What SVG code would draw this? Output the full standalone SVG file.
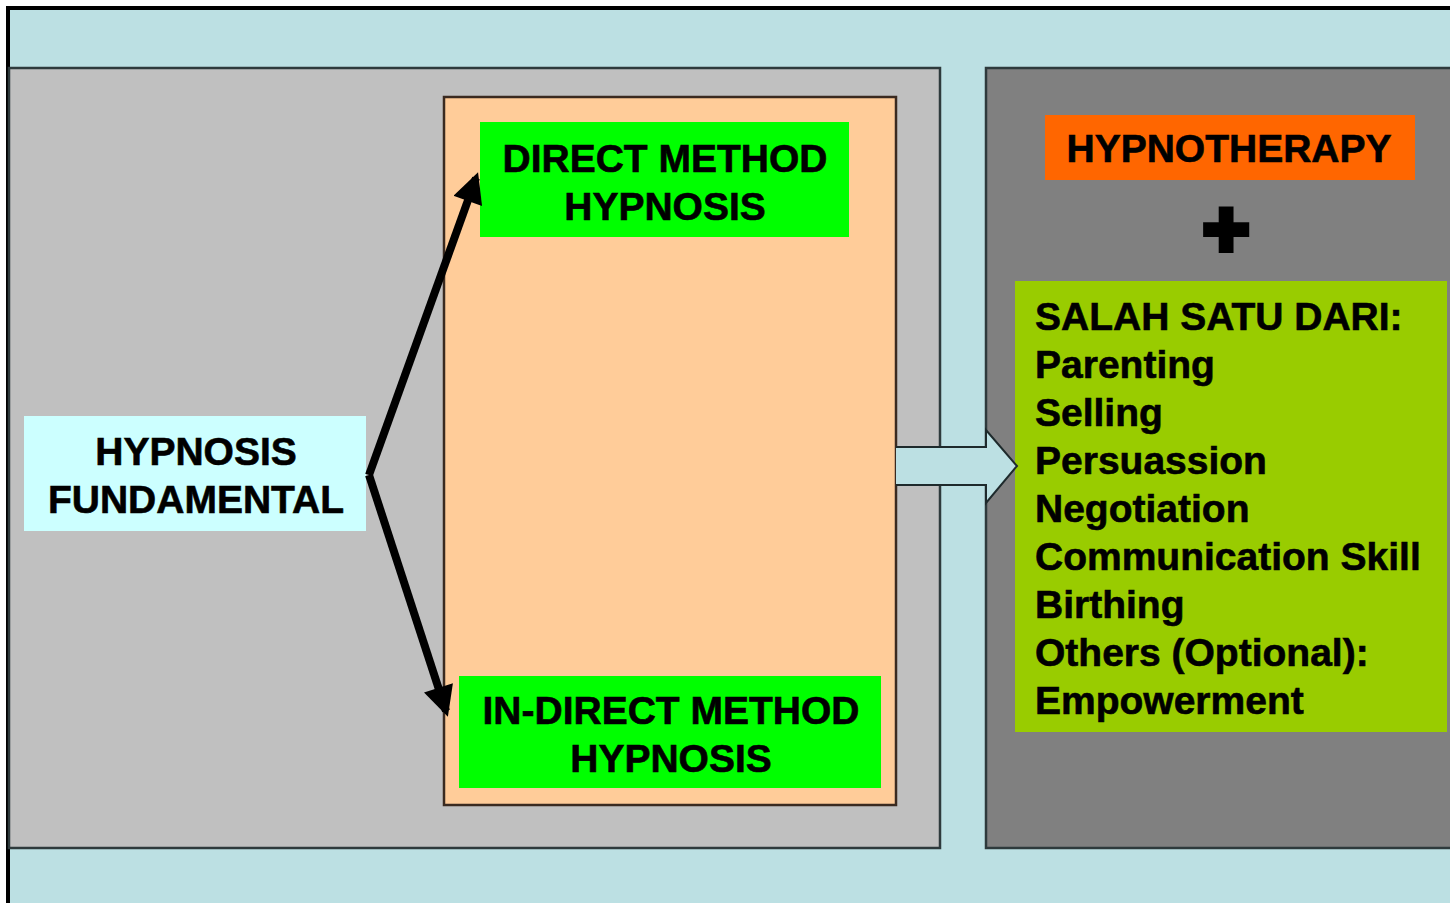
<svg xmlns="http://www.w3.org/2000/svg" width="1450" height="903" viewBox="0 0 1450 903">
<defs>
<style>
.t{font-family:"Liberation Sans",Arial,sans-serif;font-weight:bold;font-size:39px;fill:#000;stroke:#000;stroke-width:0.6;}
.c{text-anchor:middle;}
.panel{stroke:#2e3a3c;stroke-width:2.5;}
</style>
<marker id="ah" viewBox="0 0 10 10" refX="8" refY="5" markerWidth="4" markerHeight="3.8" markerUnits="strokeWidth" orient="auto">
<path d="M0,0 L10,5 L0,10 z" fill="#000"/>
</marker>
</defs>
<rect x="0" y="0" width="1450" height="903" fill="#ffffff"/>
<rect x="8" y="8" width="1442" height="895" fill="#bce0e3"/>
<path d="M6,8 H1450 M8,6 V903" stroke="#000" stroke-width="4" fill="none"/>

<g id="left-panel">
<rect class="panel" x="9" y="68" width="931" height="780" fill="#c0c0c0"/>
</g>
<g id="right-panel">
<rect class="panel" x="986" y="68" width="470" height="780" fill="#808080"/>
</g>

<g id="methods-box">
<rect x="444" y="97" width="452" height="708" fill="#ffcc99" stroke="#3a2a20" stroke-width="2.5"/>
</g>

<g id="direct-method">
<rect x="480" y="122" width="369" height="115" fill="#00ff00"/>
<text class="t c" x="665" y="172">DIRECT METHOD</text>
<text class="t c" x="665" y="220">HYPNOSIS</text>
</g>

<g id="indirect-method">
<rect x="459" y="676" width="422" height="112" fill="#00ff00"/>
<text class="t c" x="671" y="724">IN-DIRECT METHOD</text>
<text class="t c" x="671" y="772">HYPNOSIS</text>
</g>

<g id="hypnosis-fundamental">
<rect x="24" y="416" width="342" height="115" fill="#ccffff"/>
<text class="t c" x="196" y="465">HYPNOSIS</text>
<text class="t c" x="196" y="513">FUNDAMENTAL</text>
</g>

<g id="hypnotherapy">
<rect x="1045" y="115" width="370" height="65" fill="#ff6600"/>
<text class="t c" x="1229" y="162">HYPNOTHERAPY</text>
</g>

<g id="plus">
<text x="1226" y="256" text-anchor="middle" font-family="'Liberation Sans',Arial,sans-serif" font-weight="bold" font-size="80" fill="#000" stroke="#000" stroke-width="6">+</text>
</g>

<g id="options">
<rect x="1015" y="281" width="432" height="451" fill="#99cc00"/>
<text class="t" x="1035" y="330">SALAH SATU DARI:</text>
<text class="t" x="1035" y="378">Parenting</text>
<text class="t" x="1035" y="426">Selling</text>
<text class="t" x="1035" y="474">Persuassion</text>
<text class="t" x="1035" y="522">Negotiation</text>
<text class="t" x="1035" y="570">Communication Skill</text>
<text class="t" x="1035" y="618">Birthing</text>
<text class="t" x="1035" y="666">Others (Optional):</text>
<text class="t" x="1035" y="714">Empowerment</text>
</g>

<g id="connectors">
<path d="M369,475 L476,178" stroke="#000" stroke-width="8" fill="none" marker-end="url(#ah)"/>
<path d="M369,475 L446,711" stroke="#000" stroke-width="8" fill="none" marker-end="url(#ah)"/>
<rect x="896" y="447" width="92" height="38" fill="#bce0e3"/>
<path d="M896,447 H986 V430 L1017,466 L986,503 V485 H896" fill="#bce0e3" stroke="#1e2a2c" stroke-width="2"/>
</g>
</svg>
